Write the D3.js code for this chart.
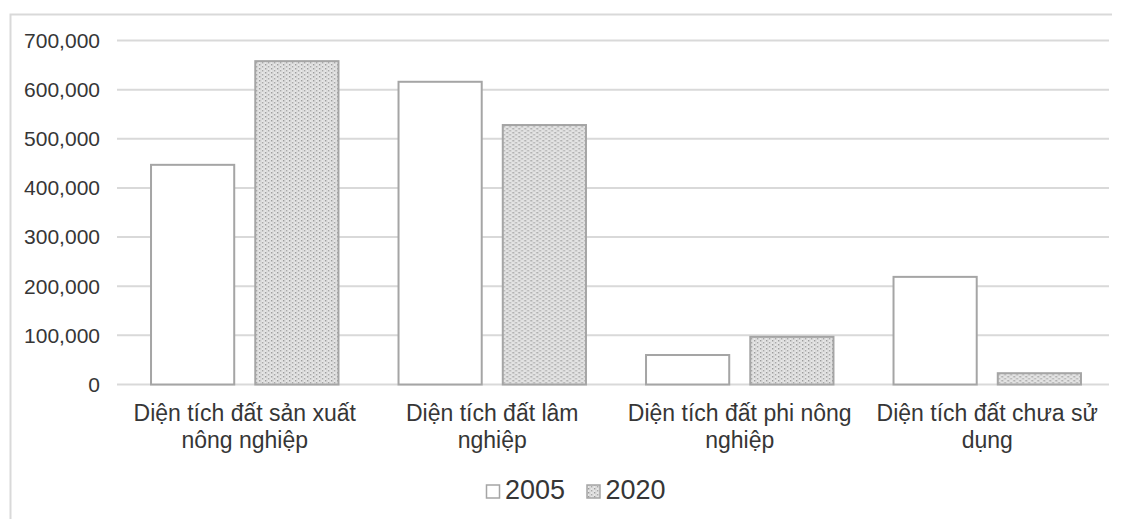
<!DOCTYPE html>
<html>
<head>
<meta charset="utf-8">
<script src="https://cdn.jsdelivr.net/npm/d3@7/dist/d3.min.js"></script>
<style>
  html, body { margin: 0; padding: 0; background: #ffffff; }
  svg { display: block; font-family: "Liberation Sans", Arial, sans-serif; }
</style>
</head>
<body>
<svg id="chart" width="1121" height="519"></svg>
<script>
// Land-use areas (ha) by category, 2005 vs 2020
const categories = [
  "Diện tích đất sản xuất nông nghiệp",
  "Diện tích đất lâm nghiệp",
  "Diện tích đất phi nông nghiệp",
  "Diện tích đất chưa sử dụng"
];
const categoryLines = [
  ["Diện tích đất sản xuất", "nông nghiệp"],
  ["Diện tích đất lâm", "nghiệp"],
  ["Diện tích đất phi nông", "nghiệp"],
  ["Diện tích đất chưa sử", "dụng"]
];
const seriesNames = ["2005", "2020"];
const values2005 = [447000, 616000, 60000, 219000];
const values2020 = [658000, 528000, 97000, 23000];
const yTicks = [0, 100000, 200000, 300000, 400000, 500000, 600000, 700000];

const seriesValues = [values2005, values2020];

const svg = d3.select("#chart");
const textColor = "#363636";
const gridColor = "#d9d9d9";
const barStroke = "#a5a5a5";

// dotted fill for the 2020 series
const defs = svg.append("defs");
const pat = defs.append("pattern")
  .attr("id", "dots")
  .attr("patternUnits", "userSpaceOnUse")
  .attr("width", 6).attr("height", 4);
pat.append("rect").attr("width", 6).attr("height", 4).attr("fill", "#e8e8e8");
pat.append("rect").attr("x", 0).attr("y", 0).attr("width", 1.5).attr("height", 1.5).attr("fill", "#9c9c9c");
pat.append("rect").attr("x", 3).attr("y", 2).attr("width", 1.5).attr("height", 1.5).attr("fill", "#a8a8a8");
pat.append("rect").attr("x", 1.5).attr("y", 0).attr("width", 1).attr("height", 4).attr("fill", "#cfcfcf");
pat.append("rect").attr("x", 4.5).attr("y", 0).attr("width", 1).attr("height", 4).attr("fill", "#d6d6d6");

const fills = ["#ffffff", "url(#dots)"];

// outer chart frame
svg.append("path")
  .attr("d", "M10.5,519 L10.5,14.5 L1112,14.5")
  .attr("fill", "none")
  .attr("stroke", gridColor)
  .attr("stroke-width", 2);

const plot = { left: 121, right: 1111, top: 40.5, bottom: 384.5 };

const y = d3.scaleLinear().domain([0, 700000]).range([plot.bottom, plot.top]);
const x0 = d3.scaleBand().domain(categories).range([plot.left, plot.right]).padding(0);
const x1 = d3.scaleBand().domain(seriesNames).range([0, x0.bandwidth()])
  .paddingInner(0.202).paddingOuter(0.288);

// gridlines
svg.append("g").selectAll("line")
  .data(yTicks)
  .join("line")
  .attr("x1", 117).attr("x2", 1109)
  .attr("y1", d => y(d)).attr("y2", d => y(d))
  .attr("stroke", gridColor)
  .attr("stroke-width", 2);

// y axis labels
const fmt = d3.format(",");
svg.append("g").selectAll("text")
  .data(yTicks)
  .join("text")
  .attr("x", 100)
  .attr("y", d => y(d))
  .attr("dy", "0.35em")
  .attr("text-anchor", "end")
  .attr("font-size", 21)
  .attr("fill", textColor)
  .text(d => fmt(d));

// bars
const groups = svg.append("g").selectAll("g")
  .data(categories)
  .join("g")
  .attr("transform", d => `translate(${x0(d)},0)`);

groups.selectAll("rect")
  .data((d, i) => seriesNames.map((s, j) => ({ s, j, v: seriesValues[j][i] })))
  .join("rect")
  .attr("x", d => x1(d.s))
  .attr("y", d => y(d.v))
  .attr("width", x1.bandwidth())
  .attr("height", d => y(0) - y(d.v))
  .attr("fill", d => fills[d.j])
  .attr("stroke", barStroke)
  .attr("stroke-width", 2);

// category labels
const catLabels = svg.append("g").selectAll("text")
  .data(categories)
  .join("text")
  .attr("x", d => x0(d) + x0.bandwidth() / 2)
  .attr("y", 421)
  .attr("text-anchor", "middle")
  .attr("font-size", 23)
  .attr("fill", textColor);
catLabels.selectAll("tspan")
  .data((d, i) => categoryLines[i])
  .join("tspan")
  .attr("x", function () { return d3.select(this.parentNode).attr("x"); })
  .attr("dy", (d, i) => i === 0 ? 0 : 27)
  .text(d => d);

// legend
const legendItems = [
  { name: seriesNames[0], fill: fills[0], bx: 486.5, tx: 505 },
  { name: seriesNames[1], fill: fills[1], bx: 587, tx: 605.5 }
];
const legend = svg.append("g");
legend.selectAll("rect")
  .data(legendItems)
  .join("rect")
  .attr("x", d => d.bx).attr("y", 485)
  .attr("width", 13).attr("height", 13)
  .attr("fill", d => d.fill)
  .attr("stroke", barStroke)
  .attr("stroke-width", 1.5);
legend.selectAll("text")
  .data(legendItems)
  .join("text")
  .attr("x", d => d.tx).attr("y", 498.5)
  .attr("font-size", 27)
  .attr("fill", textColor)
  .text(d => d.name);
</script>
</body>
</html>
